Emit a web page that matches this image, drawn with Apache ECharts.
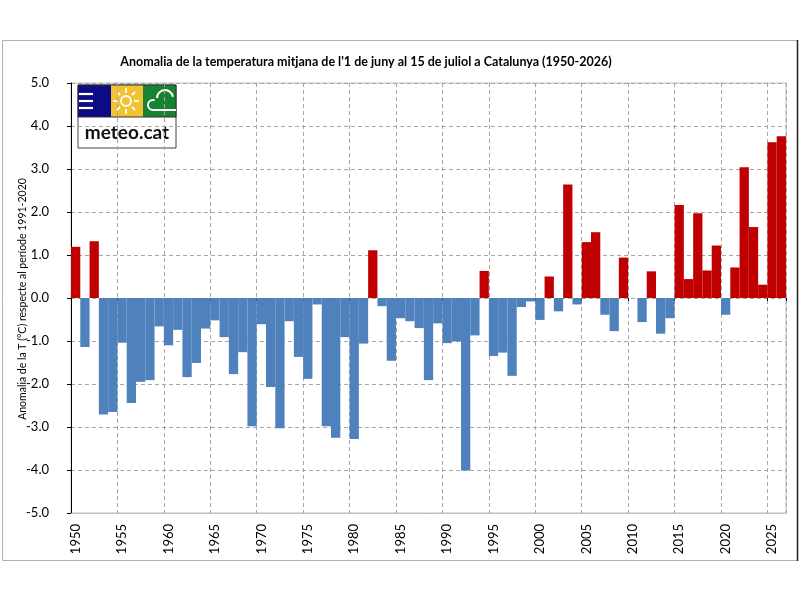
<!DOCTYPE html>
<html>
<head>
<meta charset="utf-8">
<script src="https://cdn.jsdelivr.net/npm/echarts@6/dist/echarts.min.js"></script>
<style>html,body{margin:0;padding:0;background:#fff}#c{width:800px;height:600px}</style>
</head>
<body>
<div id="c"></div>
<script>
var years = ['1950','1951','1952','1953','1954','1955','1956','1957','1958','1959',
'1960','1961','1962','1963','1964','1965','1966','1967','1968','1969',
'1970','1971','1972','1973','1974','1975','1976','1977','1978','1979',
'1980','1981','1982','1983','1984','1985','1986','1987','1988','1989',
'1990','1991','1992','1993','1994','1995','1996','1997','1998','1999',
'2000','2001','2002','2003','2004','2005','2006','2007','2008','2009',
'2010','2011','2012','2013','2014','2015','2016','2017','2018','2019',
'2020','2021','2022','2023','2024','2025','2026'];
var anomalies = [1.19,-1.14,1.32,-2.71,-2.65,-1.04,-2.44,-1.95,-1.91,-0.66,
-1.10,-0.74,-1.84,-1.51,-0.71,-0.52,-0.91,-1.77,-1.26,-2.98,
-0.61,-2.07,-3.03,-0.54,-1.37,-1.88,-0.15,-2.98,-3.25,-0.91,
-3.28,-1.06,1.11,-0.19,-1.46,-0.47,-0.54,-0.70,-1.91,-0.59,
-1.05,-1.01,-4.01,-0.87,0.63,-1.35,-1.27,-1.81,-0.21,-0.08,
-0.51,0.50,-0.31,2.64,-0.15,1.30,1.53,-0.39,-0.77,0.94,
0.00,-0.56,0.62,-0.83,-0.47,2.16,0.44,1.97,0.64,1.22,
-0.39,0.71,3.04,1.65,0.31,3.62,3.76];
var titleText = "Anomalia de la temperatura mitjana de l'1 de juny al 15 de juliol a Catalunya (1950-2026)";
var yName = 'Anomalia de la T (°C) respecte al període 1991-2020';

var FONT = 'Lato, "Open Sans", sans-serif';
var chart = echarts.init(document.getElementById('c'));
var grey = '#a6a6a6';
var W = '#ffffff';
function ln(x1, y1, x2, y2, w) {
  return {type: 'line', shape: {x1: x1, y1: y1, x2: x2, y2: y2}, style: {stroke: W, lineWidth: w}};
}
chart.setOption({
  backgroundColor: '#ffffff',
  animation: false,
  title: {
    text: titleText, left: 361, top: 50, textAlign: 'center',
    textStyle: {fontFamily: FONT, fontSize: 12.5, fontWeight: 'bold', color: '#000'}
  },
  grid: {left: 71, right: 14, top: 83, bottom: 87, show: true, borderColor: '#bfbfbf', borderWidth: 1},
  xAxis: [{
    type: 'category', data: years, position: 'bottom',
    axisLine: {onZero: false, lineStyle: {color: '#bfbfbf'}},
    axisTick: {show: false},
    axisLabel: {interval: 4, rotate: 90, fontFamily: FONT, fontSize: 13, color: '#000', margin: 11},
    splitLine: {show: true, interval: 4, lineStyle: {color: grey, type: [4, 3]}}
  }, {
    type: 'category', data: years, position: 'bottom',
    axisLine: {show: false, onZero: true},
    axisTick: {show: true, interval: 4, length: 3, lineStyle: {color: '#000'}},
    axisLabel: {show: false},
    splitLine: {show: false}
  }],
  yAxis: {
    type: 'value', min: -5, max: 5, interval: 1,
    axisLine: {show: true, lineStyle: {color: '#000'}},
    axisTick: {show: true, length: 4, lineStyle: {color: '#000'}},
    axisLabel: {fontFamily: FONT, fontSize: 13, color: '#000', margin: 22,
      formatter: function (v) { return v.toFixed(1); }},
    splitLine: {show: true, lineStyle: {color: grey, type: [4, 3]}}
  },
  series: [{
    type: 'bar', xAxisIndex: 0, data: anomalies, barCategoryGap: '0%',
    itemStyle: {color: function (p) { return p.value > 0 ? '#C00000' : '#4F81BD'; }}
  }],
  graphic: [
    {type: 'rect', shape: {x: 2.5, y: 40.5, width: 795, height: 520}, style: {fill: 'none', stroke: '#b0b0b0', lineWidth: 1}, silent: true},
    {type: 'line', shape: {x1: 797.5, y1: 40, x2: 797.5, y2: 561}, style: {stroke: '#222', lineWidth: 1.5}, silent: true},
    {type: 'text', x: 23, y: 299, rotation: Math.PI / 2, silent: true,
      style: {text: yName, textAlign: 'center', textVerticalAlign: 'middle', fontFamily: FONT, fontSize: 10.5, fill: '#000'}},
    {type: 'group', x: 78, y: 85, silent: true, children: [
      {type: 'rect', shape: {x: 0, y: 0, width: 98, height: 63}, style: {fill: '#fff', stroke: '#444', lineWidth: 1}},
      {type: 'rect', shape: {x: 0, y: 0, width: 33, height: 32}, style: {fill: '#0b0b85'}},
      {type: 'rect', shape: {x: 33, y: 0, width: 32, height: 32}, style: {fill: '#f2c230'}},
      {type: 'rect', shape: {x: 65, y: 0, width: 33, height: 32}, style: {fill: '#17822f'}},
      {type: 'rect', shape: {x: 0, y: 0, width: 98, height: 32}, style: {fill: 'none', stroke: '#333', lineWidth: 1}},
      ln(1, 9, 15, 9, 2.2), ln(1, 16, 15, 16, 2.2), ln(1, 23, 15, 23, 2.2),
      {type: 'circle', shape: {cx: 48, cy: 16, r: 5}, style: {fill: 'none', stroke: W, lineWidth: 1.8}},
      ln(48, 3, 48, 8, 1.8), ln(48, 24, 48, 29, 1.8), ln(35, 16, 40, 16, 1.8), ln(56, 16, 61, 16, 1.8),
      ln(39, 7, 42, 10, 1.8), ln(54, 22, 57, 25, 1.8), ln(57, 7, 54, 10, 1.8), ln(42, 22, 39, 25, 1.8),
      ln(75, 25, 98, 25, 2),
      {type: 'arc', shape: {cx: 75, cy: 20, r: 5, startAngle: Math.PI * 0.5, endAngle: Math.PI * 1.6, clockwise: true}, style: {fill: 'none', stroke: W, lineWidth: 2}},
      {type: 'arc', shape: {cx: 87, cy: 13, r: 8, startAngle: Math.PI * 1.0, endAngle: Math.PI * 1.95, clockwise: true}, style: {fill: 'none', stroke: W, lineWidth: 2}},
      {type: 'text', style: {x: 49, y: 48, text: 'meteo.cat', textAlign: 'center', textVerticalAlign: 'middle', fontFamily: FONT, fontSize: 19, fontWeight: 'bold', fill: '#111'}}
    ]}
  ]
});
</script>
</body>
</html>
